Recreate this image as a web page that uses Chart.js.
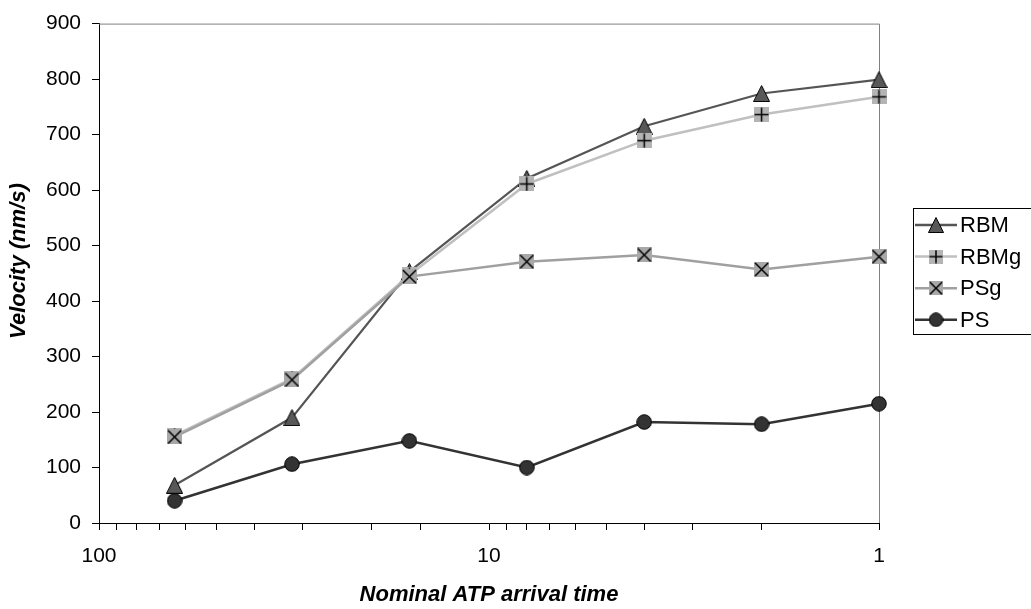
<!DOCTYPE html>
<html>
<head>
<meta charset="utf-8">
<script src="https://cdn.jsdelivr.net/npm/chart.js@4.4.1/dist/chart.umd.min.js"></script>
<style>
  html, body { margin: 0; padding: 0; background: #fff; }
  #wrap { width: 1031px; height: 609px; }
</style>
</head>
<body>
<div id="wrap"><canvas id="chart" width="1031" height="609"></canvas></div>
<script>
// nominal ATP arrival time (log axis, drawn reversed)
const arrivalTime = [64, 32, 16, 8, 4, 2, 1];
// velocities in nm/s
const rbm  = [68, 190, 453, 621, 715, 774, 799];
const rbmg = [158, 260, 447, 611, 689, 736, 768];
const psg  = [155, 258, 444, 471, 483, 457, 480];
const ps   = [40, 106, 148, 100, 182, 178, 215];
const xTickLabels = [100, 10, 1];

const FONT = '"Liberation Sans", Arial, sans-serif';

// small canvases used as point styles
const marker = (kind, size) => {
  const c = document.createElement('canvas');
  c.width = size; c.height = size;
  const g = c.getContext('2d');
  const h = size / 2;
  g.strokeStyle = '#000';
  g.lineWidth = 1;
  if (kind === 'triangle') {
    g.beginPath();
    g.moveTo(h, 0.5); g.lineTo(size - 0.5, size - 0.5); g.lineTo(0.5, size - 0.5);
    g.closePath();
    g.fillStyle = '#585858'; g.fill(); g.stroke();
  } else if (kind === 'circle') {
    g.beginPath();
    g.arc(h, h, h - 0.75, 0, Math.PI * 2);
    g.fillStyle = '#333'; g.fill(); g.stroke();
  } else {
    g.fillStyle = kind === 'plus' ? '#b4b4b4' : '#a8a8a8';
    g.fillRect(0, 0, size, size);
    g.lineWidth = 1.5;
    g.beginPath();
    if (kind === 'plus') {
      g.moveTo(h, 0.5); g.lineTo(h, size - 0.5); g.moveTo(0.5, h); g.lineTo(size - 0.5, h);
    } else {
      g.moveTo(1, 1); g.lineTo(size - 1, size - 1); g.moveTo(size - 1, 1); g.lineTo(1, size - 1);
    }
    g.stroke();
  }
  return c;
};

const series = (label, values, color, width, kind, size, order) => ({
  label: label,
  data: arrivalTime.map((x, i) => ({x: x, y: values[i]})),
  borderColor: color,
  borderWidth: width,
  pointStyle: marker(kind, size),
  legendMarker: marker(kind, size - 1),
  pointRadius: size / 2,
  tension: 0,
  clip: false,
  order: order,
});

const frame = {
  id: 'frame',
  beforeDatasetsDraw(chart) {
    const {ctx, chartArea: a} = chart;
    ctx.save();
    ctx.strokeStyle = '#808080';
    ctx.lineWidth = 1;
    ctx.beginPath();
    ctx.moveTo(a.left, a.top + 0.5);
    ctx.lineTo(a.right + 0.5, a.top + 0.5);
    ctx.lineTo(a.right + 0.5, a.bottom);
    ctx.stroke();
    ctx.restore();
  }
};

const legendBox = {
  id: 'legendBox',
  afterDraw(chart) {
    const {ctx, chartArea: a} = chart;
    const left = Math.round(a.right) + 34;
    ctx.save();
    ctx.strokeStyle = '#000';
    ctx.lineWidth = 1;
    ctx.strokeRect(left + 0.5, 208.5, 140, 126);
    ctx.font = '22px ' + FONT;
    ctx.textBaseline = 'middle';
    chart.data.datasets.forEach((ds, i) => {
      const y = 225 + i * 31.6;
      ctx.strokeStyle = ds.borderColor;
      ctx.lineWidth = 2.5;
      ctx.beginPath();
      ctx.moveTo(left + 2, y);
      ctx.lineTo(left + 44, y);
      ctx.stroke();
      const img = ds.legendMarker;
      ctx.drawImage(img, left + 23 - img.width / 2, y - img.height / 2);
      ctx.fillStyle = '#000';
      ctx.fillText(ds.label, left + 47, y + 1);
    });
    ctx.restore();
  }
};

const tickFont = {family: FONT, size: 21};
const titleFont = {family: FONT, size: 22, weight: 'bold', style: 'italic'};

new Chart(document.getElementById('chart'), {
  type: 'line',
  data: {
    datasets: [
      series('RBM', rbm, '#555555', 2.2, 'triangle', 17, 4),
      series('RBMg', rbmg, '#c0c0c0', 2.5, 'plus', 15, 3),
      series('PSg', psg, '#a0a0a0', 2.5, 'cross', 15, 2),
      series('PS', ps, '#333333', 2.5, 'circle', 16, 1),
    ]
  },
  options: {
    responsive: false,
    animation: false,
    devicePixelRatio: 1,
    layout: {padding: {left: 0, right: 152, top: 19, bottom: 0}},
    plugins: {
      legend: {display: false},
      tooltip: {enabled: false},
    },
    scales: {
      x: {
        type: 'logarithmic',
        reverse: true,
        min: 1,
        max: 100,
        border: {color: '#000', width: 1},
        grid: {drawOnChartArea: false, tickLength: 7, color: '#000'},
        ticks: {
          autoSkip: false,
          maxRotation: 0,
          padding: 14,
          color: '#000',
          font: tickFont,
          callback: v => xTickLabels.includes(v) ? String(v) : '',
        },
        title: {display: true, text: 'Nominal ATP arrival time', color: '#000', font: titleFont, padding: {top: 0, bottom: 1}},
        afterFit: s => { s.height = 86; },
      },
      y: {
        min: 0,
        max: 900,
        border: {color: '#000', width: 1},
        grid: {drawOnChartArea: false, tickLength: 7, color: '#000'},
        ticks: {stepSize: 100, padding: 11, color: '#000', font: tickFont},
        title: {display: true, text: '    Velocity (nm/s)', color: '#000', font: titleFont, padding: {top: 6, bottom: 0}},
        afterFit: s => { s.width = 99; },
      },
    },
  },
  plugins: [frame, legendBox],
});
</script>
</body>
</html>
